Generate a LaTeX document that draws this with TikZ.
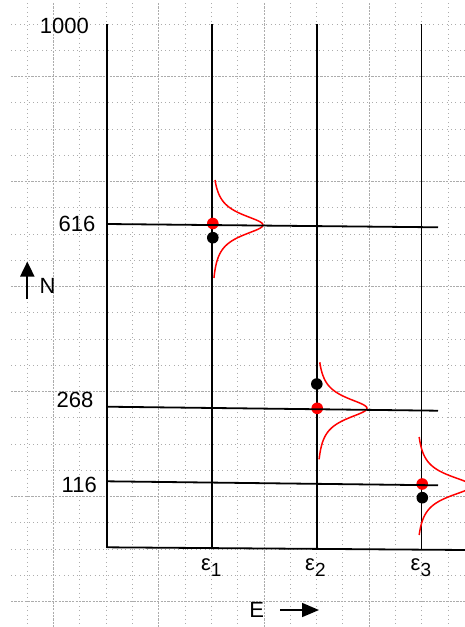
\documentclass[tikz,border=0pt]{standalone}
\usepackage{fontspec}
\setmainfont{Liberation Sans}
\usetikzlibrary{arrows.meta}
\tikzset{
  minorgrid/.style={gray!65, line width=0.9pt, dash pattern=on 1pt off 3.4pt},
  majorgrid/.style={gray!65, line width=0.9pt, dash pattern=on 2.2pt off 1.2pt},
  axisline/.style={black, line width=1.8pt},
  peak/.style={red, line width=1.5pt},
  lbl/.style={inner sep=0pt, font=\fontsize{22}{24}\selectfont},
  reddot/.style={fill=red, draw=none},
  blackdot/.style={fill=black, draw=none},
}
\newcommand{\epslab}[1]{ε\raisebox{-6pt}{\fontsize{19}{21}\selectfont #1}}
\begin{document}
\begin{tikzpicture}[x=1pt,y=-1pt]
\useasboundingbox (0,0) rectangle (465,627);
\clip (0,0) rectangle (465,627);
% grid
\foreach \k in {0,...,16}{
  \pgfmathtruncatemacro{\m}{mod(\k,4)}
  \pgfmathsetmacro{\xx}{27.3+26.3*\k}
  \ifnum\m=1
    \draw[majorgrid] (\xx,3) -- (\xx,627);
  \else
    \draw[minorgrid] (\xx,3) -- (\xx,627);
  \fi
}
\foreach \j in {0,...,22}{
  \pgfmathtruncatemacro{\m}{mod(\j,4)}
  \pgfmathsetmacro{\yy}{24+26.25*\j}
  \ifnum\m=2
    \draw[majorgrid] (11,\yy) -- (465,\yy);
  \else
    \draw[minorgrid] (11,\yy) -- (465,\yy);
  \fi
}
% vertical axes
\coordinate (v0t) at (106.7,24);   \coordinate (v0b) at (106.7,547.5);
\coordinate (v1t) at (212,24);     \coordinate (v1b) at (212,548);
\coordinate (v2t) at (316.7,24);   \coordinate (v2b) at (316.7,549);
\coordinate (v3t) at (421.5,24);   \coordinate (v3b) at (421.5,549.5);
\draw[axisline] (v0t) -- (v0b);
\draw[axisline] (v1t) -- (v1b);
\draw[axisline] (v2t) -- (v2b);
\draw[axisline] (v3t) -- (v3b);
% red curves
\draw[peak] plot[smooth, domain=-45:53, samples=90, variable=\t] ({211+52/(1+(\t/13)^2)},{225+\t});
\draw[peak] plot[smooth, domain=-46:51, samples=90, variable=\t] ({316+51/(1+(\t/13)^2)},{408.3+\t});
\draw[peak] plot[smooth, domain=-49:49, samples=90, variable=\t] ({415.5+56/(1+(\t/13)^2)},{486+\t});
% red dots
\fill[reddot] (212.8,223.5) circle (5.8);
\fill[reddot] (317.2,408.3) circle (5.8);
\fill[reddot] (422.2,484) circle (5.8);
% horizontal lines
\coordinate (h1l) at (106.7,224);   \coordinate (h1r) at (438,227.3);
\coordinate (h2l) at (106.7,406.7); \coordinate (h2r) at (438,410.7);
\coordinate (h3l) at (106.7,481.3); \coordinate (h3r) at (438,485.3);
\coordinate (h0l) at (106.7,547.3); \coordinate (h0r) at (466,550);
\draw[axisline] (h1l) -- (h1r);
\draw[axisline] (h2l) -- (h2r);
\draw[axisline] (h3l) -- (h3r);
\draw[axisline] (h0l) -- (h0r);
% black dots
\fill[blackdot] (212.8,237.7) circle (5.8);
\fill[blackdot] (316.8,384) circle (5.8);
\fill[blackdot] (422.3,497.7) circle (5.8);
% labels
\node[lbl, anchor=east] (l1000) at (89,26) {1000};
\node[lbl, anchor=east] (l616) at (95.5,224) {616};
\node[lbl, anchor=east] (l268) at (93.5,400) {268};
\node[lbl, anchor=east] (l116) at (97,485) {116};
\node[lbl] (lN) at (47.5,285.5) {N};
\node[lbl] (lE) at (256.7,610) {E};
\node[lbl, anchor=base west] (e1) at (200.8,570.5) {\epslab{1}};
\node[lbl, anchor=base west] (e2) at (305,570.5) {\epslab{2}};
\node[lbl, anchor=base west] (e3) at (410.5,570.5) {\epslab{3}};
% arrows
\coordinate (na) at (27.3,299);  \coordinate (nb) at (27.3,261.5);
\draw[line width=1.9pt, -{Triangle[width=14pt,length=15pt]}] (na) -- (nb);
\coordinate (ea) at (280,610);  \coordinate (eb) at (319,610);
\draw[line width=1.7pt, -{Triangle[width=14pt,length=17pt]}] (ea) -- (eb);
\end{tikzpicture}
\end{document}
